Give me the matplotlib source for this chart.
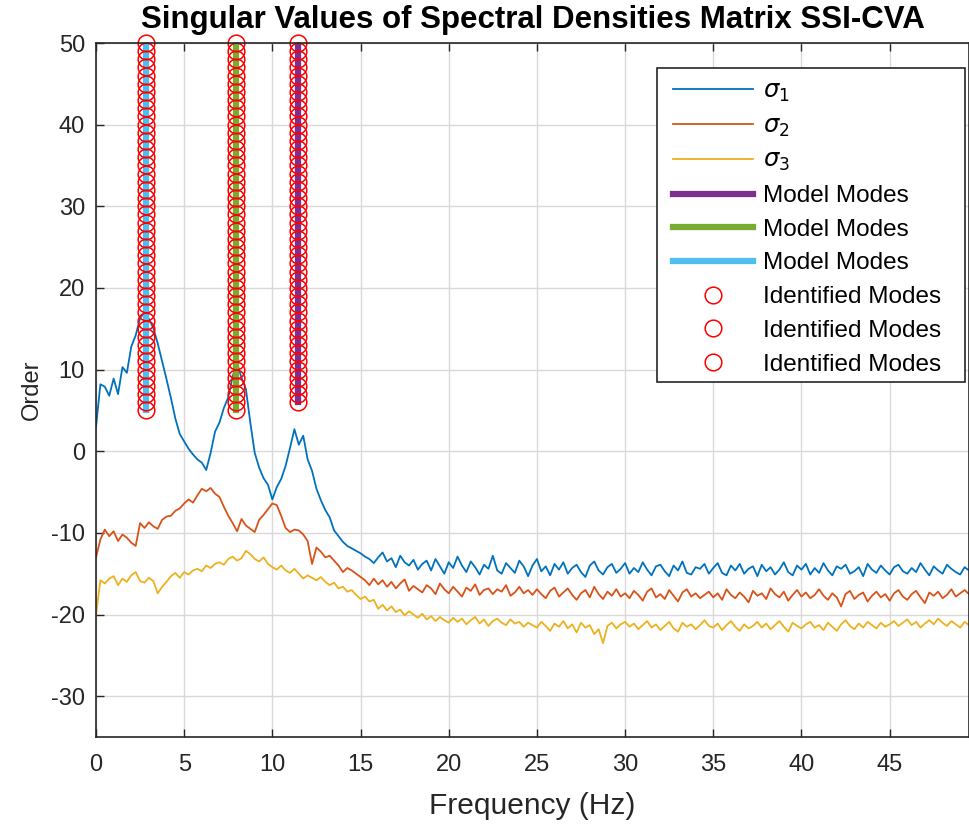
"""Singular values of the spectral density matrix with SSI-CVA stabilisation modes."""
import matplotlib
import numpy as np

matplotlib.use('Agg')
import matplotlib.pyplot as plt
from matplotlib.patches import Rectangle

plt.rcParams['font.family'] = ['Liberation Sans', 'DejaVu Sans']
plt.rcParams['mathtext.fontset'] = 'dejavusans'
plt.rcParams['axes.unicode_minus'] = False

# frequency axis, 0.25 Hz resolution
freq_step = 0.25
n_freq = 199

sigma1 = [
    3.0, 8.2, 7.9, 6.8, 8.9, 7.0, 10.3, 9.6, 12.8, 14.2, 16.3, 17.0, 16.2, 15.1, 13.2, 11.0, 8.8, 6.5, 4.0, 2.1,
    1.2, 0.3, -0.4, -1.0, -1.4, -2.3, -0.2, 2.4, 3.5, 5.3, 6.6, 9.2, 10.8, 9.0, 7.6, 3.5, -0.2, -2.0, -3.3, -4.1,
    -5.9, -4.4, -3.4, -1.8, 0.4, 2.7, 0.8, 1.9, -1.0, -2.4, -4.6, -6.0, -7.2, -8.1, -9.7, -10.4, -11.1, -11.6, -11.9, -12.2,
    -12.5, -12.9, -13.2, -13.7, -13.0, -12.4, -13.5, -13.1, -14.2, -12.8, -13.6, -14.0, -13.3, -14.5, -13.8, -13.4, -14.6, -13.2, -14.1, -15.0,
    -13.6, -14.3, -12.9, -14.0, -14.8, -13.5, -14.2, -15.1, -13.9, -14.4, -12.8, -14.6, -15.0, -13.7, -14.3, -14.9, -13.4, -14.1, -15.3, -14.0,
    -13.2, -14.7, -14.1, -15.2, -13.8, -14.5, -13.6, -15.0, -14.3, -13.9, -14.8, -15.4, -14.0, -13.5, -14.6, -15.1, -14.2, -13.8, -14.9, -14.4,
    -13.7, -15.0, -14.3, -14.8, -13.6, -14.5, -15.2, -14.1, -13.9, -14.7, -15.3, -14.0, -14.6, -13.5, -14.9, -15.1, -14.2, -14.4, -13.8, -15.0,
    -14.3, -13.7, -14.9, -15.2, -14.0, -14.6, -13.8, -15.0, -14.4, -14.1, -15.3, -13.9, -14.7, -14.2, -15.1, -14.5, -13.6, -14.8, -15.2, -14.0,
    -14.5, -13.8, -15.1, -14.3, -14.9, -13.7, -14.6, -15.2, -14.1, -14.4, -13.9, -15.0, -14.7, -14.2, -15.3, -13.8, -14.5, -14.9, -14.0, -14.6,
    -15.1, -14.2, -13.9, -14.7, -15.0, -14.3, -14.8, -13.7, -14.5, -15.2, -14.1, -14.6, -15.0, -13.9, -14.4, -14.8, -15.1, -14.2, -14.6,
]

sigma2 = [
    -13.0, -10.8, -9.6, -10.4, -9.8, -11.0, -10.2, -10.6, -11.2, -11.6, -8.8, -9.4, -8.7, -9.2, -9.5, -8.4, -8.0, -7.9, -7.3, -7.0,
    -6.4, -5.9, -6.3, -5.4, -4.6, -4.9, -4.5, -5.2, -5.6, -6.8, -7.9, -8.8, -9.8, -8.3, -9.1, -9.5, -9.9, -8.4, -7.8, -7.1,
    -6.4, -6.6, -7.9, -9.4, -9.9, -9.6, -9.7, -10.2, -11.0, -13.8, -11.8, -12.3, -13.0, -12.8, -13.4, -14.0, -14.8, -14.3, -14.6, -15.0,
    -15.4, -15.8, -16.4, -15.6, -16.3, -15.8, -16.6, -16.0, -16.8, -16.2, -15.7, -17.1, -16.5, -16.9, -17.3, -16.4, -16.8, -17.5, -16.2, -16.9,
    -17.4, -16.6, -17.2, -17.8, -16.7, -17.1, -16.3, -17.6, -17.0, -16.8, -17.5, -16.9, -17.2, -16.4, -17.7, -17.3, -16.6, -17.4, -17.0, -17.6,
    -16.9, -17.5, -18.0, -17.1, -16.7, -17.8, -17.3, -16.8, -17.6, -18.2, -17.4, -17.0, -17.9, -16.6, -17.5, -18.1, -17.2, -17.7, -16.9, -17.8,
    -17.4, -18.0, -17.1, -17.6, -18.3, -17.2, -16.8, -17.9, -17.5, -18.1, -17.0, -17.7, -18.4, -17.3, -16.9, -17.8, -17.4, -18.0, -17.6, -17.2,
    -17.9, -17.4, -18.2, -16.9, -17.6, -18.0, -17.3, -17.8, -18.5, -17.1, -17.7, -17.4, -18.1, -16.8, -17.5, -17.9, -17.2, -18.3, -17.6, -17.0,
    -17.8, -17.3, -18.0, -17.6, -16.9, -17.7, -18.2, -17.4, -17.9, -19.0, -17.5, -17.1, -18.1, -17.6, -17.3, -18.4, -17.7, -17.2, -17.9, -17.5,
    -18.3, -17.4, -17.0, -17.8, -18.2, -17.5, -17.1, -17.9, -18.6, -17.3, -17.7, -17.2, -18.0, -17.6, -16.9, -17.8, -17.4, -17.0, -17.5,
]

sigma3 = [
    -20.0, -15.8, -16.2, -15.6, -15.3, -16.4, -15.6, -16.0, -15.2, -14.8, -15.9, -16.1, -15.5, -15.9, -17.4, -16.6, -16.0, -15.3, -14.9, -15.5,
    -14.8, -15.1, -14.6, -14.4, -14.7, -14.0, -14.3, -13.8, -13.6, -13.9, -13.2, -12.9, -13.4, -13.1, -12.2, -12.6, -13.2, -13.5, -13.0, -13.8,
    -14.2, -14.5, -14.0, -14.6, -14.9, -14.4, -15.0, -15.6, -15.2, -15.5, -15.8, -15.4, -16.0, -16.4, -16.1, -16.8, -16.6, -17.2, -17.0, -17.6,
    -18.1, -17.8, -18.4, -18.2, -19.3, -18.8, -19.5, -19.0, -19.7, -19.4, -20.1, -19.6, -20.0, -20.4, -19.9, -20.6, -20.2, -20.8, -20.3, -20.7,
    -21.0, -20.4, -20.9, -20.5, -21.2, -20.7, -20.3, -21.1, -20.6, -21.4, -20.8, -20.5, -21.0, -21.3, -20.6, -21.1, -20.9, -21.5, -21.0, -21.3,
    -21.6, -20.9, -21.4, -22.0, -21.1, -21.5, -20.8, -21.7, -21.2, -22.2, -21.0, -21.6, -21.3, -22.4, -21.8, -23.5, -21.4, -21.0, -21.7, -21.2,
    -20.9, -21.5, -21.1, -21.8, -21.3, -20.8, -21.6, -21.2, -21.9, -21.4, -20.9, -21.7, -22.1, -21.0, -21.5, -21.2, -21.8, -21.3, -20.7, -21.4,
    -21.6, -21.1, -21.9, -21.3, -20.8, -21.5, -22.0, -21.2, -21.7, -21.4, -20.9, -21.6, -21.1, -21.8, -21.3, -20.8, -21.5, -22.1, -21.0, -21.4,
    -21.7, -21.2, -20.9, -21.6, -21.3, -21.9, -21.0, -21.5, -22.0, -21.2, -20.7, -21.4, -21.8, -21.1, -21.6, -20.9, -21.3, -21.7, -21.0, -21.5,
    -21.2, -20.8, -21.4, -21.0, -20.6, -21.3, -20.9, -21.6, -21.1, -20.7, -21.2, -20.5, -21.0, -21.4, -20.8, -21.2, -21.6, -20.9, -21.3,
]

# identified modes: frequency (Hz) and lowest stable model order
mode_freqs = [11.45, 7.95, 2.85]
mode_min_order = [6, 5, 5]
max_order = 50

sigma_colors = ['#0072BD', '#D95319', '#EDB120']
mode_colors = ['#7E2F8E', '#77AC30', '#4DBEEE']
axis_gray = '#262626'

f = np.arange(n_freq) * freq_step

fig = plt.figure(figsize=(9.69, 8.27), dpi=100)
ax = fig.add_axes([96 / 969, 1 - 737 / 827, 873 / 969, 694 / 827])

for i, s in enumerate([sigma1, sigma2, sigma3]):
    ax.plot(f, s, color=sigma_colors[i], linewidth=1.3, label=rf'$\sigma_{i + 1}$')

for fm, o0, c in zip(mode_freqs, mode_min_order, mode_colors):
    orders = np.arange(o0, max_order + 1)
    ax.plot(np.full(orders.size, fm), orders, color=c, linewidth=4.5, label='Model Modes')

for fm, o0 in zip(mode_freqs, mode_min_order):
    orders = np.arange(o0, max_order + 1)
    ax.plot(np.full(orders.size, fm), orders, 'o', markersize=12, markerfacecolor='none',
            markeredgecolor='red', markeredgewidth=1.1, label='Identified Modes', clip_on=False)

ax.set_xlim(0, 49.5)
ax.set_ylim(-35, 50)
ax.set_xticks(np.arange(0, 50, 5))
ax.set_yticks(np.arange(-30, 51, 10))
ax.grid(True, color='#d9d9d9', linewidth=1.0)
ax.set_axisbelow(True)
ax.tick_params(direction='in', length=6, width=1.0, colors=axis_gray, labelsize=17,
               top=True)
ax.tick_params(axis='x', pad=12)
ax.tick_params(axis='y', pad=8)
for sp in ax.spines.values():
    sp.set_color(axis_gray)
    sp.set_linewidth(1.2)

ax.set_title('Singular Values of Spectral Densities Matrix SSI-CVA', fontsize=22.5,
             fontweight='bold', pad=10.5)
ax.set_xlabel('Frequency (Hz)', fontsize=21.5, color=axis_gray, labelpad=12)
ax.set_ylabel('Order', fontsize=17, color=axis_gray, labelpad=6)

# legend box drawn separately so its padding can be wider than tall
ax.add_patch(Rectangle((0.6426, 0.5115), 0.3528, 0.4525, transform=ax.transAxes,
                       facecolor='white', edgecolor=axis_gray, linewidth=1.2,
                       zorder=4.5, clip_on=False))
leg = ax.legend(loc='upper left', bbox_to_anchor=(0.661, 0.946), fontsize=17.5,
                handlelength=3.3, handletextpad=0.4, labelspacing=0.48, borderaxespad=0,
                borderpad=0, frameon=False)

fig.savefig('out.png', dpi=100)
plt.close(fig)
